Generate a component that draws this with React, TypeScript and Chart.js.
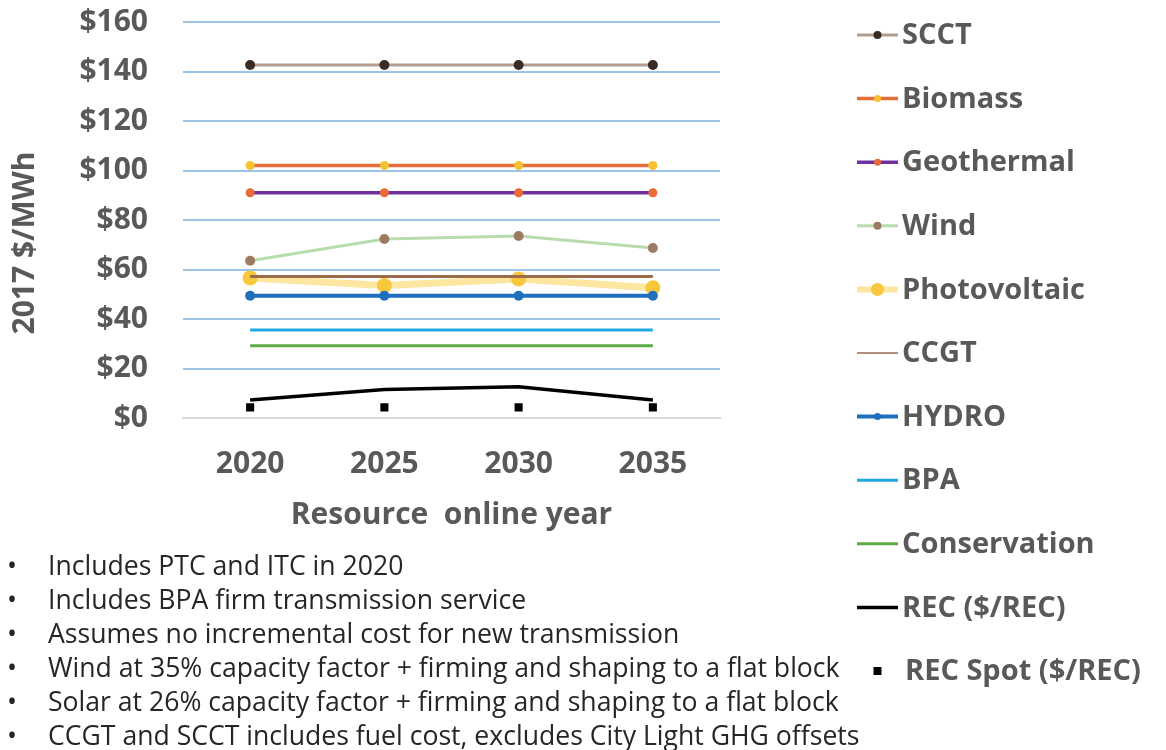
import React, { useEffect, useRef } from "react";
import { Chart, registerables } from "chart.js";

Chart.register(...registerables);

// ---- data ----
const years = ["2020", "2025", "2030", "2035"];
const scct = [142.6, 142.6, 142.6, 142.6];
const biomass = [102, 102, 102, 102];
const geothermal = [91, 91, 91, 91];
const wind = [63.5, 72.3, 73.5, 68.7];
const photovoltaic = [56.6, 53.5, 56.2, 52.6];
const ccgt = [57.2, 57.2, 57.2, 57.2];
const hydro = [49.4, 49.4, 49.4, 49.4];
const bpa = [35.6, 35.6, 35.6, 35.6];
const conservation = [29.2, 29.2, 29.2, 29.2];
const rec = [7.3, 11.5, 12.6, 7.3];
const recSpot = [4.3, 4.3, 4.3, 4.3];
const yMin = 0;
const yMax = 160;
const yStep = 20;
const yTitle = "2017 $/MWh";
const xTitle = "Resource  online year";
const notes = [
  "Includes PTC and ITC in 2020",
  "Includes BPA firm transmission service",
  "Assumes no incremental cost for new transmission",
  "Wind at 35% capacity factor + firming and shaping to a flat block",
  "Solar at 26% capacity factor + firming and shaping to a flat block",
  "CCGT and SCCT includes fuel cost, excludes City Light GHG offsets",
];

const TEXT = "#595959";

const extrasPlugin = {
  id: "extras",
  afterDraw(chart: any) {
    const ctx = chart.ctx as CanvasRenderingContext2D;
    ctx.save();
    // y axis title
    ctx.fillStyle = TEXT;
    ctx.font = "bold 30px 'Open Sans'";
    ctx.textAlign = "center";
    ctx.textBaseline = "middle";
    ctx.translate(25, 243);
    ctx.rotate(-Math.PI / 2);
    ctx.fillText(yTitle, 0, 0);
    ctx.restore();

    // legend
    ctx.save();
    const datasets = chart.data.datasets;
    const top = 35;
    const step = 63.6;
    datasets.forEach((ds: any, i: number) => {
      const y = top + step * i;
      const x0 = 857;
      const x1 = 898;
      if (ds.showLine !== false) {
        ctx.strokeStyle = ds.legendColor || ds.borderColor;
        ctx.lineWidth = Math.min(ds.borderWidth, ds.legendLineWidth || 4);
        ctx.beginPath();
        ctx.moveTo(x0, y);
        ctx.lineTo(x1, y);
        ctx.stroke();
      }
      const r = ds.legendPointRadius ?? 0;
      if (r > 0) {
        ctx.fillStyle = ds.pointBackgroundColor;
        if (ds.pointStyle === "rect") {
          ctx.fillRect((x0 + x1) / 2 - r, y - r, r * 2, r * 2);
        } else {
          ctx.beginPath();
          ctx.arc((x0 + x1) / 2, y, r, 0, Math.PI * 2);
          ctx.fill();
        }
      }
      ctx.fillStyle = TEXT;
      ctx.font = "bold 29px 'Open Sans'";
      ctx.textAlign = "left";
      ctx.textBaseline = "middle";
      ctx.fillText(ds.label, ds.showLine === false ? 905 : 902, y + 1);
    });
    ctx.restore();

    // notes
    ctx.save();
    ctx.fillStyle = "#262626";
    ctx.font = "26.6px 'Open Sans'";
    ctx.textBaseline = "middle";
    ctx.textAlign = "left";
    notes.forEach((n, i) => {
      const y = 567 + 34.1 * i;
      ctx.fillText("\u2022", 7, y);
      ctx.fillText(n, 48, y);
    });
    ctx.restore();
  },
};

export default function App() {
  const ref = useRef<HTMLCanvasElement | null>(null);
  useEffect(() => {
    if (!ref.current) return;
    const line = (
      label: string,
      data: number[],
      color: string,
      width: number,
      pColor: string,
      pRadius: number,
      order: number,
      legendPointRadius: number,
      extra: any = {}
    ) => ({
      label,
      data,
      borderColor: color,
      backgroundColor: pColor,
      borderWidth: width,
      pointBackgroundColor: pColor,
      pointBorderColor: pColor,
      pointBorderWidth: 0,
      pointRadius: pRadius,
      pointHoverRadius: pRadius,
      fill: false,
      tension: 0,
      order,
      legendPointRadius,
      ...extra,
    });
    const chart = new Chart(ref.current, {
      type: "line",
      data: {
        labels: years,
        datasets: [
          line("SCCT", scct, "#b39d8c", 3, "#3a2b24", 5, 1, 4),
          line("Biomass", biomass, "#e46f3a", 3.5, "#f6c232", 4.5, 1, 3.5),
          line("Geothermal", geothermal, "#7030a0", 3.5, "#ea6a3a", 4.5, 1, 3.5),
          line("Wind", wind, "#b8dcad", 3, "#9c7b62", 5, 1, 4),
          line("Photovoltaic", photovoltaic, "#fde6a0", 7, "#f8c73c", 7.5, 5, 6.5, { legendLineWidth: 6 }),
          line("CCGT", ccgt, "#9b6b4c", 3, "#9b6b4c", 0, 2, 0, { legendLineWidth: 2, legendColor: "#b0907a" }),
          line("HYDRO", hydro, "#1e6fbe", 4, "#1e6fbe", 5, 1, 3.5),
          line("BPA", bpa, "#1ea7e1", 3, "#1ea7e1", 0, 1, 0),
          line("Conservation", conservation, "#5cab47", 3, "#5cab47", 0, 1, 0),
          line("REC ($/REC)", rec, "#000000", 3.5, "#000000", 0, 1, 0),
          line("REC Spot ($/REC)", recSpot, "#000000", 0, "#000000", 5.7, 1, 4, {
            showLine: false,
            pointStyle: "rect",
          }),
        ],
      },
      options: {
        animation: false,
        responsive: false,
        maintainAspectRatio: false,
        layout: { padding: { left: 0, top: 22, right: 446, bottom: 0 } },
        plugins: {
          legend: { display: false },
          tooltip: { enabled: false },
          title: { display: false },
        },
        scales: {
          x: {
            offset: true,
            grid: { display: false, drawTicks: false },
            border: { display: true, color: "#d9d9d9", width: 2 },
            ticks: {
              color: TEXT,
              font: { family: "'Open Sans'", size: 30, weight: "bold" },
              padding: 28,
            },
            title: {
              display: true,
              text: xTitle,
              color: TEXT,
              font: { family: "'Open Sans'", size: 30, weight: "bold" },
              padding: { top: 0, bottom: 217 },
            },
            afterFit(scale: any) {
              scale.height = 332;
              scale.paddingLeft = 0;
              scale.paddingRight = 0;
            },
          },
          y: {
            min: yMin,
            max: yMax,
            grid: {
              drawTicks: false,
              color: (c: any) => (c.tick && c.tick.value === 0 ? "rgba(0,0,0,0)" : "#9dc3e6"),
              lineWidth: 2,
            },
            border: { display: false },
            ticks: {
              stepSize: yStep,
              color: TEXT,
              font: { family: "'Open Sans'", size: 30, weight: "bold" },
              padding: 35,
              callback: (v: any) => "$" + v,
            },
            afterFit(scale: any) {
              scale.width = 183;
              scale.paddingTop = 0;
              scale.paddingBottom = 0;
            },
          },
        },
      },
      plugins: [extrasPlugin],
    } as any);
    return () => chart.destroy();
  }, []);

  return (
    <div style={{ position: "absolute", left: 0, top: 0, width: 1166, height: 750, background: "#fff" }}>
      <canvas ref={ref} width={1166} height={750} style={{ width: 1166, height: 750 }} />
    </div>
  );
}
